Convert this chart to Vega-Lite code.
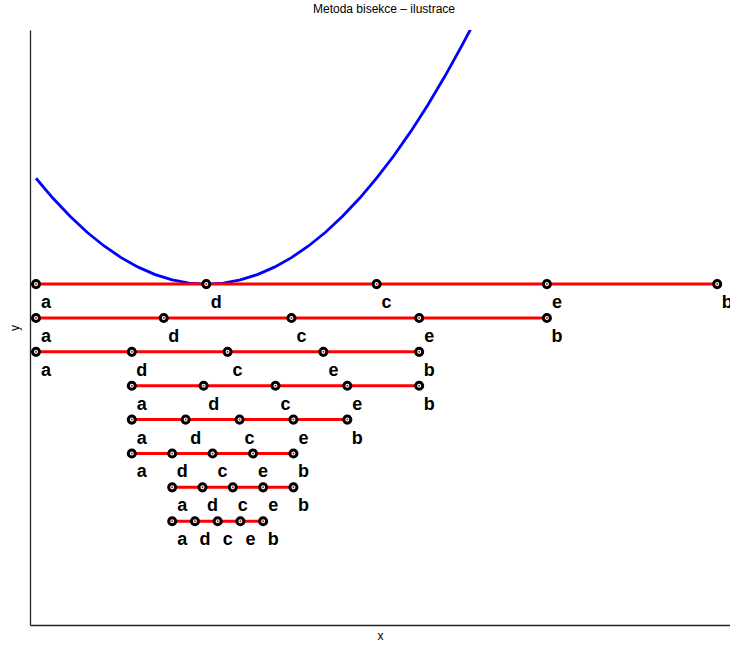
{
  "$schema": "https://vega.github.io/schema/vega-lite/v6.json",
  "width": 700,
  "height": 595,
  "autosize": "none",
  "padding": {"left": 30, "top": 30, "right": 0, "bottom": 20},
  "background": "white",
  "title": {"text": "Metoda bisekce – ilustrace", "fontSize": 12, "fontWeight": "normal", "font": "Liberation Sans", "color": "black", "baseline": "alphabetic", "offset": 5, "anchor": "middle", "dx": 4},
  "config": {"view": {"stroke": null}},
  "datasets": {
    "curve": [
      {"x": 0.0, "y": 1.0}, {"x": 0.1, "y": 0.81}, {"x": 0.2, "y": 0.64}, {"x": 0.3, "y": 0.49},
      {"x": 0.4, "y": 0.36}, {"x": 0.5, "y": 0.25}, {"x": 0.6, "y": 0.16}, {"x": 0.7, "y": 0.09},
      {"x": 0.8, "y": 0.04}, {"x": 0.9, "y": 0.01}, {"x": 1.0, "y": 0.0}, {"x": 1.1, "y": 0.01},
      {"x": 1.2, "y": 0.04}, {"x": 1.3, "y": 0.09}, {"x": 1.4, "y": 0.16}, {"x": 1.5, "y": 0.25},
      {"x": 1.6, "y": 0.36}, {"x": 1.7, "y": 0.49}, {"x": 1.8, "y": 0.64}, {"x": 1.9, "y": 0.81},
      {"x": 2.0, "y": 1.0}, {"x": 2.1, "y": 1.21}, {"x": 2.2, "y": 1.44}, {"x": 2.3, "y": 1.69},
      {"x": 2.4, "y": 1.96}, {"x": 2.5, "y": 2.25}, {"x": 2.55, "y": 2.4025}, {"x": 2.6, "y": 2.56}
    ],
    "pts": [
      {"row": 1, "x": 0, "y": 0, "lab": "a"}, {"row": 1, "x": 1, "y": 0, "lab": "d"}, {"row": 1, "x": 2, "y": 0, "lab": "c"}, {"row": 1, "x": 3, "y": 0, "lab": "e"}, {"row": 1, "x": 4, "y": 0, "lab": "b"},
      {"row": 2, "x": 0, "y": -0.32, "lab": "a"}, {"row": 2, "x": 0.75, "y": -0.32, "lab": "d"}, {"row": 2, "x": 1.5, "y": -0.32, "lab": "c"}, {"row": 2, "x": 2.25, "y": -0.32, "lab": "e"}, {"row": 2, "x": 3, "y": -0.32, "lab": "b"},
      {"row": 3, "x": 0, "y": -0.64, "lab": "a"}, {"row": 3, "x": 0.5625, "y": -0.64, "lab": "d"}, {"row": 3, "x": 1.125, "y": -0.64, "lab": "c"}, {"row": 3, "x": 1.6875, "y": -0.64, "lab": "e"}, {"row": 3, "x": 2.25, "y": -0.64, "lab": "b"},
      {"row": 4, "x": 0.5625, "y": -0.96, "lab": "a"}, {"row": 4, "x": 0.984375, "y": -0.96, "lab": "d"}, {"row": 4, "x": 1.40625, "y": -0.96, "lab": "c"}, {"row": 4, "x": 1.828125, "y": -0.96, "lab": "e"}, {"row": 4, "x": 2.25, "y": -0.96, "lab": "b"},
      {"row": 5, "x": 0.5625, "y": -1.28, "lab": "a"}, {"row": 5, "x": 0.87890625, "y": -1.28, "lab": "d"}, {"row": 5, "x": 1.1953125, "y": -1.28, "lab": "c"}, {"row": 5, "x": 1.51171875, "y": -1.28, "lab": "e"}, {"row": 5, "x": 1.828125, "y": -1.28, "lab": "b"},
      {"row": 6, "x": 0.5625, "y": -1.6, "lab": "a"}, {"row": 6, "x": 0.7998046875, "y": -1.6, "lab": "d"}, {"row": 6, "x": 1.037109375, "y": -1.6, "lab": "c"}, {"row": 6, "x": 1.2744140625, "y": -1.6, "lab": "e"}, {"row": 6, "x": 1.51171875, "y": -1.6, "lab": "b"},
      {"row": 7, "x": 0.7998046875, "y": -1.92, "lab": "a"}, {"row": 7, "x": 0.9777832031, "y": -1.92, "lab": "d"}, {"row": 7, "x": 1.1557617188, "y": -1.92, "lab": "c"}, {"row": 7, "x": 1.3337402344, "y": -1.92, "lab": "e"}, {"row": 7, "x": 1.51171875, "y": -1.92, "lab": "b"},
      {"row": 8, "x": 0.7998046875, "y": -2.24, "lab": "a"}, {"row": 8, "x": 0.9332885742, "y": -2.24, "lab": "d"}, {"row": 8, "x": 1.0667724609, "y": -2.24, "lab": "c"}, {"row": 8, "x": 1.2002563477, "y": -2.24, "lab": "e"}, {"row": 8, "x": 1.3337402344, "y": -2.24, "lab": "b"}
    ]
  },
  "encoding": {
    "x": {"field": "x", "type": "quantitative", "scale": {"domain": [-0.0352, 4.0752], "nice": false, "zero": false},
      "axis": {"title": "x", "labels": false, "ticks": false, "grid": false, "domainColor": "#222", "domainWidth": 1.3, "titleFont": "Liberation Sans", "titleFontSize": 12, "titleFontWeight": "normal", "titleColor": "black", "titlePadding": 5}},
    "y": {"field": "y", "type": "quantitative", "scale": {"domain": [-3.22, 2.4], "nice": false, "zero": false},
      "axis": {"title": "y", "labels": false, "ticks": false, "grid": false, "domainColor": "#222", "domainWidth": 1.3, "titleFont": "Liberation Sans", "titleFontSize": 12, "titleFontWeight": "normal", "titleColor": "black", "titlePadding": 9}}
  },
  "layer": [
    {"data": {"name": "curve"}, "mark": {"type": "line", "color": "#0000ff", "strokeWidth": 2.8, "clip": true}},
    {"data": {"name": "pts"}, "mark": {"type": "line", "color": "#ff0000", "strokeWidth": 3}, "encoding": {"detail": {"field": "row", "type": "nominal"}, "order": {"field": "x", "type": "quantitative"}}},
    {"data": {"name": "pts"}, "mark": {"type": "point", "shape": "circle", "filled": false, "fill": "white", "fillOpacity": 1, "stroke": "black", "strokeWidth": 3, "size": 50, "opacity": 1}},
    {"data": {"name": "pts"}, "mark": {"type": "point", "shape": "circle", "filled": true, "color": "#ff0000", "size": 4, "opacity": 1}},
    {"data": {"name": "pts"}, "mark": {"type": "text", "font": "Liberation Sans", "fontSize": 18, "fontWeight": "bold", "color": "black", "align": "center", "baseline": "alphabetic", "dx": 10, "dy": 24}, "encoding": {"text": {"field": "lab", "type": "nominal"}}}
  ]
}
